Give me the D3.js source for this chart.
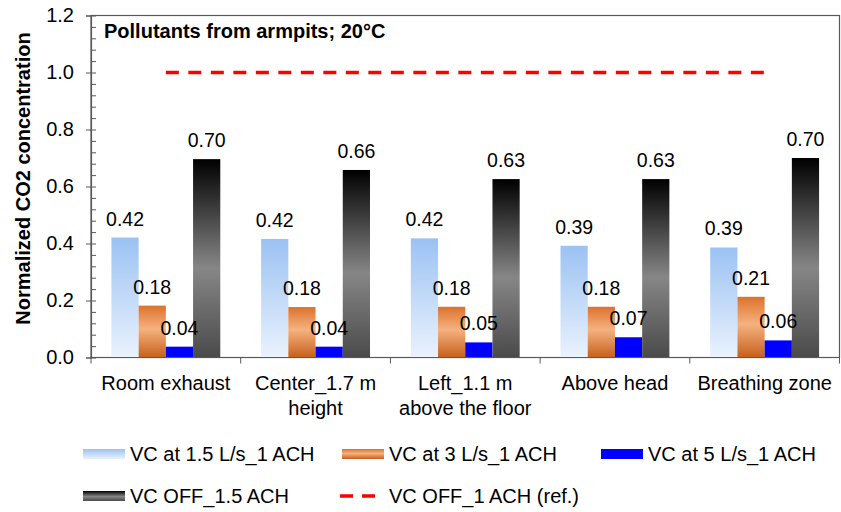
<!DOCTYPE html>
<meta charset="utf-8">
<script src="https://cdn.jsdelivr.net/npm/d3@7"></script>
<style>
body { margin: 0; background: #fff; }
text { font-family: "Liberation Sans", Arial, sans-serif; fill: #000; }
</style>
<body>
<script>
// data
var categories = [["Room exhaust"], ["Center_1.7 m", "height"], ["Left_1.1 m", "above the floor"], ["Above head"], ["Breathing zone"]];
var seriesNames = ["VC at 1.5 L/s_1 ACH", "VC at 3 L/s_1 ACH", "VC at 5 L/s_1 ACH", "VC OFF_1.5 ACH"];
var vc15 = [0.421, 0.416, 0.418, 0.392, 0.386];
var vc3 = [0.182, 0.177, 0.178, 0.178, 0.213];
var vc5 = [0.038, 0.038, 0.053, 0.071, 0.060];
var vcOff15 = [0.696, 0.658, 0.626, 0.626, 0.700];
var refName = "VC OFF_1 ACH (ref.)";
var refValue = 1.0;
var yTicks = [0, 0.2, 0.4, 0.6, 0.8, 1.0, 1.2];

var W = 841, H = 512;
var margin = {top: 15.5, right: 1.5, bottom: 154.5, left: 91};

var svg = d3.select("body").append("svg")
    .attr("width", W)
    .attr("height", H);

// gradients
var defs = svg.append("defs");
function grad(id, stops) {
  var g = defs.append("linearGradient").attr("id", id)
      .attr("x1", 0).attr("y1", 0).attr("x2", 0).attr("y2", 1);
  stops.forEach(function(s) {
    g.append("stop").attr("offset", s[0]).attr("stop-color", s[1]);
  });
}
grad("gBlue", [[0, "#9bc2f3"], [1, "#eaf2fd"]]);
grad("gOrange", [[0, "#dc722c"], [0.45, "#f5b27f"], [1, "#c6601c"]]);
grad("gBlack", [[0, "#000000"], [0.55, "#868686"], [1, "#4a4a4a"]]);
var fills = ["url(#gBlue)", "url(#gOrange)", "#0000ff", "url(#gBlack)"];

var x = d3.scaleBand()
    .domain(d3.range(categories.length))
    .range([margin.left, W - margin.right])
    .padding(0);

var xs = d3.scaleBand()
    .domain(d3.range(seriesNames.length))
    .range([0, x.bandwidth()])
    .paddingInner(0)
    .paddingOuter(0.75);

var y = d3.scaleLinear()
    .domain([0, 1.2])
    .range([H - margin.bottom, margin.top]);

var axisCol = "#595959";

// frame
svg.append("rect")
    .attr("x", margin.left).attr("y", margin.top)
    .attr("width", W - margin.right - margin.left)
    .attr("height", y(0) - margin.top)
    .attr("fill", "none")
    .attr("stroke", axisCol)
    .attr("stroke-width", 1.2);

// bars
var allSeries = [vc15, vc3, vc5, vcOff15];
var groups = svg.append("g").selectAll("g")
    .data(categories)
    .enter().append("g")
    .attr("transform", function(d, i) { return "translate(" + x(i) + ",0)"; });

groups.each(function(c, i) {
  var g = d3.select(this);
  allSeries.forEach(function(s, j) {
    g.append("rect")
        .attr("x", xs(j))
        .attr("y", y(s[i]))
        .attr("width", xs.bandwidth())
        .attr("height", y(0) - y(s[i]))
        .attr("fill", fills[j]);
  });
});

// reference dashed line
svg.append("line")
    .attr("x1", x(0) + x.bandwidth() / 2)
    .attr("x2", x(categories.length - 1) + x.bandwidth() / 2)
    .attr("y1", y(refValue)).attr("y2", y(refValue))
    .attr("stroke", "#ff0000")
    .attr("stroke-width", 3.5)
    .attr("stroke-dasharray", "13,9.5");

// data labels
var fmt = d3.format(".2f");
groups.each(function(c, i) {
  var g = d3.select(this);
  allSeries.forEach(function(s, j) {
    g.append("text")
        .attr("x", xs(j) + xs.bandwidth() / 2)
        .attr("y", y(s[i]) - 12)
        .attr("text-anchor", "middle")
        .attr("font-size", "19.5px")
        .text(fmt(s[i]));
  });
});

// y axis: major ticks outward, minor ticks inside
var yAxis = svg.append("g")
    .attr("transform", "translate(" + margin.left + ",0)")
    .call(d3.axisLeft(y).tickValues(yTicks).tickSize(5).tickPadding(12).tickFormat(d3.format(".1f")));
yAxis.select(".domain").attr("stroke", axisCol).attr("stroke-width", 1.2);
yAxis.selectAll(".tick line").attr("stroke", axisCol);
yAxis.selectAll(".tick text").attr("font-size", "20px").attr("font-family", null).attr("fill", "#000");

var minor = svg.append("g")
    .attr("transform", "translate(" + margin.left + ",0)")
    .call(d3.axisRight(y).tickValues(d3.range(0, 31).map(function(k) { return k * 0.04; })).tickSize(5).tickFormat(""));
minor.select(".domain").remove();
minor.selectAll(".tick line").attr("stroke", axisCol);

// x axis
svg.append("line")
    .attr("x1", margin.left).attr("x2", W - margin.right)
    .attr("y1", y(0)).attr("y2", y(0))
    .attr("stroke", axisCol).attr("stroke-width", 1.2);

var bounds = d3.range(categories.length).map(function(i) { return x(i); }).concat([W - margin.right]);
svg.append("g").selectAll("line")
    .data(bounds)
    .enter().append("line")
    .attr("x1", function(d) { return d; }).attr("x2", function(d) { return d; })
    .attr("y1", y(0)).attr("y2", y(0) + 6)
    .attr("stroke", axisCol);

var xl = svg.append("g").selectAll("text")
    .data(categories)
    .enter().append("text")
    .attr("text-anchor", "middle")
    .attr("font-size", "20px")
    .attr("transform", function(d, i) { return "translate(" + (x(i) + x.bandwidth() / 2) + "," + (y(0) + 32) + ")"; });
xl.selectAll("tspan")
    .data(function(d) { return d; })
    .enter().append("tspan")
    .attr("x", 0)
    .attr("dy", function(d, k) { return k === 0 ? 0 : 25; })
    .text(function(d) { return d; });

// titles
svg.append("text")
    .attr("x", 104).attr("y", 38)
    .attr("font-size", "20px")
    .attr("font-weight", "bold")
    .text("Pollutants from armpits; 20°C");

svg.append("text")
    .attr("transform", "translate(30," + ((y(0) + margin.top) / 2 - 8) + ") rotate(-90)")
    .attr("text-anchor", "middle")
    .attr("font-size", "20px")
    .attr("font-weight", "bold")
    .text("Normalized CO2 concentration");

// legend
var legCols = [83, 342, 601];
var legRows = [454, 496];
var legend = svg.append("g");
seriesNames.forEach(function(name, i) {
  var lx = legCols[i % 3], ly = legRows[Math.floor(i / 3)];
  legend.append("rect")
      .attr("x", lx).attr("y", ly - 5)
      .attr("width", 42).attr("height", 10)
      .attr("fill", fills[i]);
  legend.append("text")
      .attr("x", lx + 47).attr("y", ly + 7)
      .attr("font-size", "20px")
      .text(name);
});
legend.append("line")
    .attr("x1", legCols[1] - 2).attr("x2", legCols[1] + 33)
    .attr("y1", legRows[1]).attr("y2", legRows[1])
    .attr("stroke", "#ff0000")
    .attr("stroke-width", 3.5)
    .attr("stroke-dasharray", "13,9");
legend.append("text")
    .attr("x", legCols[1] + 47).attr("y", legRows[1] + 7)
    .attr("font-size", "20px")
    .text(refName);
</script>
</body>
